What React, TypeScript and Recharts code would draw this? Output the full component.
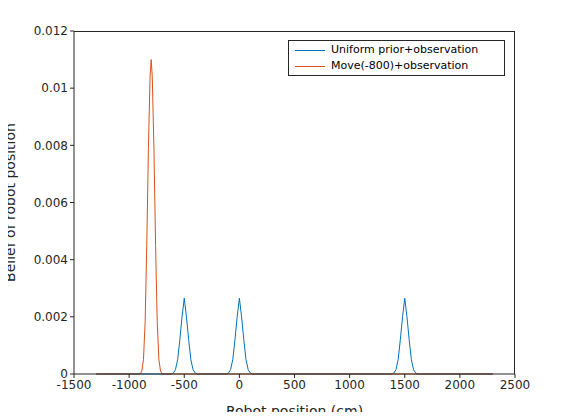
import { LineChart, Line, XAxis, YAxis } from 'recharts'

const xTicks = [-1500, -1000, -500, 0, 500, 1000, 1500, 2000, 2500]
const yTicks = [0, 0.002, 0.004, 0.006, 0.008, 0.01, 0.012]

// Uniform prior + observation: three bumps at -500, 0, 1500
const blueX = [
  -1300, -620, -600, -580, -560, -540, -520, -500, -480, -460, -440, -420, -400, -380,
  -120, -100, -80, -60, -40, -20, 0, 20, 40, 60, 80, 100, 120,
  1380, 1400, 1420, 1440, 1460, 1480, 1500, 1520, 1540, 1560, 1580, 1600, 1620, 2300
]
const blueY = [
  0, 0, 0.00003, 0.00015, 0.0005, 0.0012, 0.002, 0.00265, 0.002, 0.0012, 0.0005, 0.00015, 0.00003, 0,
  0, 0.00003, 0.00015, 0.0005, 0.0012, 0.002, 0.00265, 0.002, 0.0012, 0.0005, 0.00015, 0.00003, 0,
  0, 0.00003, 0.00015, 0.0005, 0.0012, 0.002, 0.00265, 0.002, 0.0012, 0.0005, 0.00015, 0.00003, 0, 0
]

// Move(-800) + observation: single sharp bump at -800
const orangeX = [
  -1300, -900, -885, -870, -855, -840, -825, -810, -800, -790, -775, -760, -745, -730, -715, -700, 2300
]
const orangeY = [
  0, 0, 0.0001, 0.0005, 0.0018, 0.0045, 0.0079, 0.0104, 0.011, 0.0104, 0.0079, 0.0045, 0.0018, 0.0005, 0.0001, 0, 0
]

const blueData = blueX.map((x, i) => ({ x, y: blueY[i] }))
const orangeData = orangeX.map((x, i) => ({ x, y: orangeY[i] }))

const axisColor = '#262626'
const font = 'DejaVu Sans, sans-serif'

function LegendBox() {
  return (
    <div style={{
      position: 'absolute', top: 40, left: 288, width: 203,
      border: `1px solid ${axisColor}`, background: '#fff', padding: '1px 6px',
      fontFamily: font, fontSize: 11, color: '#000', lineHeight: '16px'
    }}>
      {[['Uniform prior+observation', '#0072BD'], ['Move(-800)+observation', '#D95319']].map(([t, c]) => (
        <div key={t} style={{ display: 'flex', alignItems: 'center' }}>
          <span style={{ width: 30, height: 1, background: c, display: 'inline-block', marginRight: 6 }} />
          {t}
        </div>
      ))}
    </div>
  )
}

export default function App() {
  return (
    <div style={{ margin: -8, width: 570, height: 420, background: '#fff', position: 'relative' }}>
      <LineChart width={570} height={420} margin={{ top: 31, right: 55, bottom: 0, left: 0 }}>
        <XAxis
          type="number" dataKey="x" domain={[-1500, 2500]} ticks={xTicks}
          allowDataOverflow height={46} stroke={axisColor} tickSize={4}
          tick={{ fontSize: 12, fill: axisColor, fontFamily: font }}
          label={{ value: 'Robot position (cm)', position: 'insideBottom', offset: 4, fontSize: 14, fill: axisColor, fontFamily: font }}
        />
        <YAxis
          type="number" domain={[0, 0.012]} ticks={yTicks} width={74} stroke={axisColor} tickSize={4}
          tick={{ fontSize: 12, fill: axisColor, fontFamily: font }}
          tickFormatter={(v: number) => String(+v.toFixed(3))}
          label={{ value: 'Belief of robot position', angle: -90, position: 'insideLeft', offset: 10, fontSize: 14, fill: axisColor, fontFamily: font, style: { textAnchor: 'middle' } }}
        />
        <Line data={blueData} dataKey="y" stroke="#0072BD" strokeWidth={1} dot={false} isAnimationActive={false} />
        <Line data={orangeData} dataKey="y" stroke="#D95319" strokeWidth={1} dot={false} isAnimationActive={false} />
      </LineChart>
      <div style={{
        position: 'absolute', left: 74, top: 31, width: 441, height: 343,
        borderTop: `1px solid ${axisColor}`, borderRight: `1px solid ${axisColor}`, boxSizing: 'border-box', pointerEvents: 'none'
      }} />
      <LegendBox />
    </div>
  )
}
